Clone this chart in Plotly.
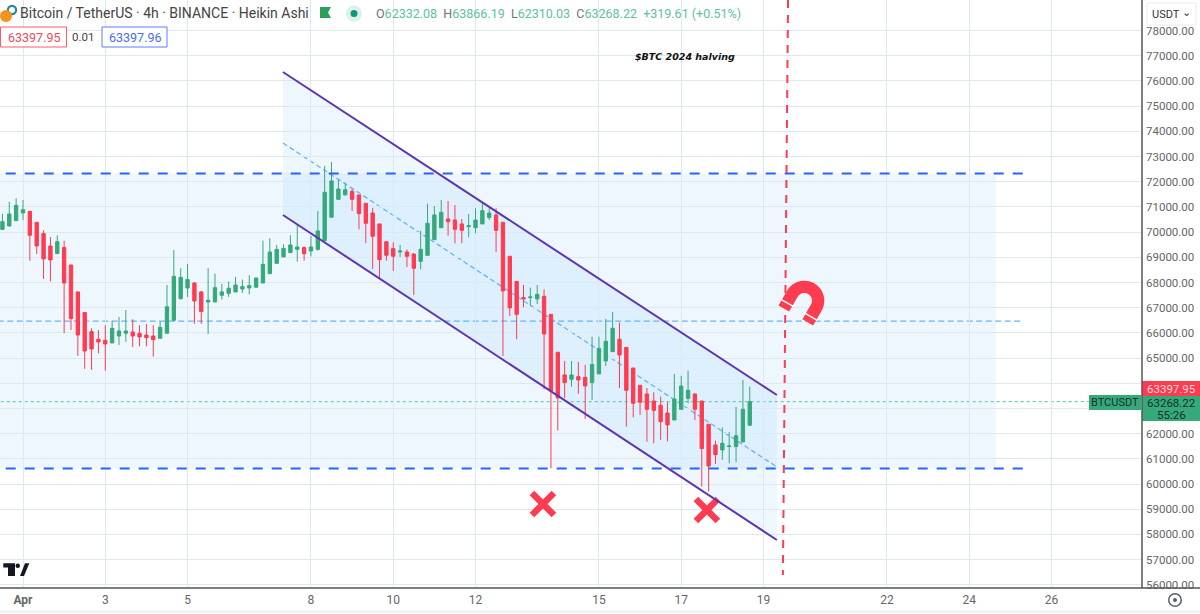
import numpy as np
import pandas as pd
import plotly.graph_objects as go

W, H = 1200, 614
PW, PH = 1142, 588

opens = [70110,70240,70455,70760,70825,70390,69940,69450,69145,69385,68695,67625,66805,66050,65745,65705,65600,65875,65985,66035,65985,65915,65875,65785,65985,66500,67360,67780,67980,
         67625,67225,67225,67490,67570,67625,67745,67785,67810,67980,68350,68760,69015,69185,69315,69385,69250,69315,69660,70590,71300,71475,71620,71475,71145,70760,70325,69620,
         69345,69210,69210,69130,68840,69080,69700,70175,70520,70480,70325,70215,70175,70325,70585,70680,70390,69040,68045,67400,67400,67345,67450,66735,65230,64330,64155,
         64260,64235,64025,64370,64885,65255,65745,65425,64605,63920,63575,63295,63125,62820,62540,62965,63400,63575,63295,62370,61550,61350,61485,61485,61670,62332.08]
highs = [70720,71200,71340,71275,70825,70390,70070,69805,69875,69660,68695,67625,66805,66180,66115,66300,66475,66630,66910,66540,66300,66355,66300,66460,67900,69290,68565,68735,68020,
         67665,68565,68350,67940,68045,68220,68115,68285,68180,69660,69755,69490,69515,69875,70285,69425,69845,70840,72625,72785,72070,71965,71710,71475,71145,70960,70325,69620,
         69595,69490,69305,69160,70060,71130,71035,71275,71235,71075,70520,70720,70945,71170,70945,70945,70390,69040,68045,67900,67795,67900,67730,66735,65230,64885,64885,
         64845,64725,65850,65850,66550,66830,66405,65425,64605,63920,63810,63640,63470,63245,64370,64290,64500,63575,63295,62370,61720,62240,62065,63060,64130,63866.19]
lows = [70085,70240,70455,70480,68865,69130,68140,68045,69145,65985,66115,65085,64570,64530,65190,64500,65600,65520,65640,65440,65465,65465,65055,65785,65985,66500,67320,67425,66365,
        66355,65955,67225,67320,67425,67625,67585,67530,67810,67980,68350,68760,69015,69185,68830,68870,69040,69265,69660,70590,71300,71475,70840,70110,69570,68535,68165,68870,
        68455,69015,68615,67505,68525,69080,69700,70175,69860,69555,69555,69795,69950,70325,70480,69210,65085,66670,65745,67015,67070,67145,63760,60625,62120,63415,63865,
        63585,62580,63335,64370,64685,65255,63810,62280,62650,62740,61680,61615,61750,61695,62540,62965,63205,62540,59895,59700,60795,60955,60820,60860,61670,62310.03]
closes = [70415,70720,71065,70890,69875,69450,68935,68895,69620,67980,66565,65915,65280,65360,65640,65560,66180,66075,66075,65875,65840,65810,65730,66220,67040,68245,68205,68115,67265,
          66845,67295,67795,67625,67770,67900,67835,67875,68180,68720,69210,69315,69355,69490,69410,69145,69410,70045,71580,72030,71710,71685,71300,70735,70350,69835,68905,69080,
          69040,69250,69040,68565,69315,70350,70680,70785,70415,70110,70070,70255,70480,70850,70760,70070,67665,66990,66735,67345,67425,67530,65955,63695,63415,64025,64330,
          64130,63890,64740,65385,65665,66180,65120,63720,63205,63245,62965,62925,62475,62345,63375,63890,63720,62965,61405,60715,61165,61615,61510,61920,62965,63268.22]

first_bar = "2024-03-31 12:00"
bar_times = pd.date_range(first_bar, periods=len(opens), freq="4h").strftime("%Y-%m-%d %H:%M").tolist()

x_tick_dates = ["2024-04-01","2024-04-03","2024-04-05","2024-04-08","2024-04-10","2024-04-12",
                "2024-04-15","2024-04-17","2024-04-19","2024-04-22","2024-04-24","2024-04-26"]
x_tick_labels = ["<b>Apr</b>","3","5","8","10","12","15","17","19","22","24","26"]
y_ticks = list(range(56000, 79000, 1000))
covered_ticks = [63000, 64000]  # sit under the price tags in the reference

channel_start, channel_end = "2024-04-07 07:40", "2024-04-19 07:50"
channel_upper = [76356, 63533]
channel_mid = [73538, 60675]
channel_lower = [70679, 57777]
zone_top, zone_mid, zone_bottom = 72330, 66470, 60620
last_price, ask_price = 63268.22, 63397.95
x_marks_t = ["2024-04-13 15:20", "2024-04-17 15:00"]
x_marks_p = [59206, 58968]

GREEN, RED = "#36A97B", "#FF3B50"
BLUE, PURPLE, LBLUE = "#2962FF", "#5E35B1", "#64B5F6"

def px(x): return x / PW
def py(y): return 1 - y / PH

fig = go.Figure()
fig.add_trace(go.Candlestick(
    x=bar_times, open=opens, high=highs, low=lows, close=closes,
    increasing=dict(line=dict(color=GREEN, width=1), fillcolor=GREEN),
    decreasing=dict(line=dict(color=RED, width=1), fillcolor=RED),
    whiskerwidth=0, showlegend=False, hoverinfo="skip"))
fig.add_trace(go.Scatter(
    x=x_marks_t, y=x_marks_p, mode="markers", showlegend=False, hoverinfo="skip",
    marker=dict(symbol="x-thin", size=22, color=RED, line=dict(width=6.5, color=RED))))

shapes = []
def line(x0, y0, x1, y1, color, width, dash="solid", layer="above"):
    shapes.append(dict(type="line", x0=x0, y0=y0, x1=x1, y1=y1, xref="x", yref="y",
                       line=dict(color=color, width=width, dash=dash), layer=layer))
def prect(x0, y0, x1, y1, fill, border=None, bw=1, layer="above"):
    shapes.append(dict(type="rect", xref="paper", yref="paper", x0=px(x0), x1=px(x1), y0=py(y1), y1=py(y0),
                       fillcolor=fill, line=dict(color=border or fill, width=bw if border else 0), layer=layer))
def ppath(points, fill, close=True, lc=None, lw=0):
    d = "M" + " L".join(f"{px(a):.5f},{py(b):.5f}" for a, b in points) + (" Z" if close else "")
    shapes.append(dict(type="path", xref="paper", yref="paper", path=d,
                       fillcolor=fill if close else "rgba(0,0,0,0)", line=dict(color=lc or fill, width=lw), layer="above"))

# zones
shapes.append(dict(type="rect", xref="x", yref="y", x0="2024-03-30", x1="2024-04-24 15:35", y0=zone_bottom, y1=zone_top,
                   fillcolor="rgba(33,150,243,0.075)", line=dict(width=0), layer="below"))
d = (f"M{channel_start.replace(' ','_')},{channel_upper[0]} L{channel_end.replace(' ','_')},{channel_upper[1]} "
     f"L{channel_end.replace(' ','_')},{channel_lower[1]} L{channel_start.replace(' ','_')},{channel_lower[0]} Z")
shapes.append(dict(type="path", xref="x", yref="y", path=d, fillcolor="rgba(33,150,243,0.08)",
                   line=dict(width=0), layer="below"))
line("2024-03-30 04:40", zone_top, "2024-04-25 12:00", zone_top, BLUE, 2, "10px,9px")
line("2024-03-30 04:40", zone_bottom, "2024-04-25 12:00", zone_bottom, BLUE, 2, "10px,9px")
line("2024-03-30", zone_mid, "2024-04-25 06:45", zone_mid, LBLUE, 1.3, "6px,3.5px", "below")
line(channel_start, channel_upper[0], channel_end, channel_upper[1], PURPLE, 2)
line(channel_start, channel_lower[0], channel_end, channel_lower[1], PURPLE, 2)
line(channel_start, channel_mid[0], channel_end, channel_mid[1], LBLUE, 1.3, "5px,3px", "below")
line("2024-03-30", last_price, "2024-04-27 02:00", last_price, "#4CC79A", 1, "dot", "below")
line("2024-04-19 14:20", 79215, "2024-04-19 11:20", 56387, RED, 2, "8px,7px")

# magnet
cx, cy, R, r, L = 804.3, 300.7, 20, 7.7, 17
u, v = np.array([0.866, 0.5]), np.array([-0.5, 0.866])
c = np.array([cx, cy])
ang = np.linspace(np.pi, 0, 30)
outer = [c + R*np.cos(a)*u - R*np.sin(a)*v for a in ang]
inner = [c + r*np.cos(a)*u - r*np.sin(a)*v for a in ang[::-1]]
pts = [c - R*u + L*v] + outer + [c + R*u + L*v, c + r*u + L*v] + inner + [c - r*u + L*v]
ppath([tuple(p) for p in pts], RED)
for s in (-1, 1):
    a, b = c + s*(r-1)*u + 10.5*v, c + s*(R+1)*u + 10.5*v
    ppath([tuple(a), tuple(b)], "white", close=False, lc="white", lw=1.5)

# TradingView logo
ppath([(3.3,563.3),(15,563.3),(15,576),(8,576),(8,567.5),(3.3,567.5)], "#131722")
ppath([(20,576),(24,576),(29.3,563.3),(25,563.3)], "#131722")
shapes.append(dict(type="circle", xref="paper", yref="paper", x0=px(15.5), x1=px(20), y0=py(568), y1=py(563.5),
                   fillcolor="#131722", line=dict(width=0), layer="above"))

# legend icon items
def circ(xc, yc, rad, fill):
    shapes.append(dict(type="circle", xref="paper", yref="paper", x0=px(xc-rad), x1=px(xc+rad), y0=py(yc+rad), y1=py(yc-rad),
                       fillcolor=fill, line=dict(width=0), layer="above"))
circ(12, 10, 5.2, "#1F8AA0")
circ(12, 10, 3, "white")
circ(6, 16, 6, "#F7931A")
ppath([(320,7),(331,7),(328,12.5),(331,18),(320,18)], "#2E9E5B")
circ(354, 13.5, 8, "#DDF0EC")
circ(354, 13.5, 3.5, "#089981")

# buttons & tags
prect(0.5, 27, 66.5, 47, "white", "#FF5A6A", 1)
prect(102, 27, 167, 47, "white", "#5C7CFF", 1)
prect(1147, 3, 1196, 25, "white", "#E6EBEF", 1)
prect(1142, 381, 1200, 396, RED)
prect(1142, 396, 1200, 421, GREEN)
prect(1089, 395, 1141, 410, GREEN)
shapes.append(dict(type="line", xref="paper", yref="paper", x0=0, x1=px(1200), y0=py(611.5), y1=py(611.5),
                   line=dict(color="#E4E9EE", width=1.5), layer="above"))
# right & bottom dividers
shapes.append(dict(type="line", xref="paper", yref="paper", x0=px(1142), x1=px(1142), y0=py(0), y1=py(PH),
                   line=dict(color="#555555", width=1.5), layer="above"))
shapes.append(dict(type="line", xref="paper", yref="paper", x0=0, x1=px(1200), y0=py(PH), y1=py(PH),
                   line=dict(color="#555555", width=1.5), layer="above"))
circ(1175, 600, 7, "#5A5F66")
circ(1175, 600, 5.5, "white")
circ(1175, 600, 2, "#5A5F66")

FONT = "Roboto, sans-serif"
ann = []
def text(x, y, s, size=12, color="#333", anchor="left", family=FONT):
    ann.append(dict(x=px(x), y=py(y), xref="paper", yref="paper", text=s, showarrow=False, xanchor=anchor, yanchor="middle",
                    font=dict(size=size, color=color, family=family), borderpad=0, borderwidth=0))
G2 = "#5CC39A"; L2 = "#6F7478"
def lab(k, v): return f'<span style="color:{L2}">{k}</span><span style="color:{G2}">{v}</span>'
text(20, 13.5, "Bitcoin / TetherUS · 4h · BINANCE · Heikin Ashi", 14, "#444")
text(376, 13.5, lab("O","62332.08")+"  "+lab("H","63866.19")+"  "+lab("L","62310.03")+"  "+lab("C","63268.22")+
     f'  <span style="color:{G2}">+319.61 (+0.51%)</span>', 12.5)
text(33.5, 37, "63397.95", 12.5, "#F2495C", "center")
text(83, 37, "0.01", 11.5, "#444", "center")
text(134.5, 37, "63397.96", 12.5, "#4A6CF7", "center")
text(685, 57, "<b><i>$BTC 2024 halving</i></b>", 9.5, "#111", "center", "DejaVu Sans")
text(1152, 14, "USDT", 11, "#333")
text(1186, 13, "⌄", 11, "#333", "center", "DejaVu Sans")
text(1171, 388.5, f"{ask_price:.2f}", 11.5, "#FFD9DD", "center")
text(1171, 402.5, f"{last_price:.2f}", 11.5, "#10332A", "center")
text(1171, 414.5, "55:26", 11.5, "#10332A", "center")
text(1115, 402.5, "BTCUSDT", 11, "#10332A", "center")

fig.update_layout(
    width=W, height=H, margin=dict(l=0, r=W-PW, t=0, b=H-PH),
    paper_bgcolor="white", plot_bgcolor="white", showlegend=False,
    shapes=shapes, annotations=ann, boxgap=0.3,
    font=dict(family=FONT, color="#666666"),
    xaxis=dict(type="date", range=["2024-03-31 10:35", "2024-04-28 04:50"], tickmode="array",
               tickvals=x_tick_dates, ticktext=x_tick_labels, showgrid=True, gridcolor="#DCE9F2", gridwidth=1.3,
               rangeslider=dict(visible=False), zeroline=False, ticks="", ticklabelstandoff=3,
               tickfont=dict(size=12, color="#666666")),
    yaxis=dict(side="right", range=[55871, 79215], tickmode="array", tickvals=y_ticks,
               ticktext=["" if v in covered_ticks else f"{v:.2f}" for v in y_ticks],
               showgrid=True, gridcolor="#DCE9F2", gridwidth=1.3, zeroline=False, ticks="", ticklabelstandoff=3,
               tickfont=dict(size=11.5, color="#666666")),
)
fig.write_html("out.html", config={"displayModeBar": False}, post_script="document.body.style.margin='0';")
